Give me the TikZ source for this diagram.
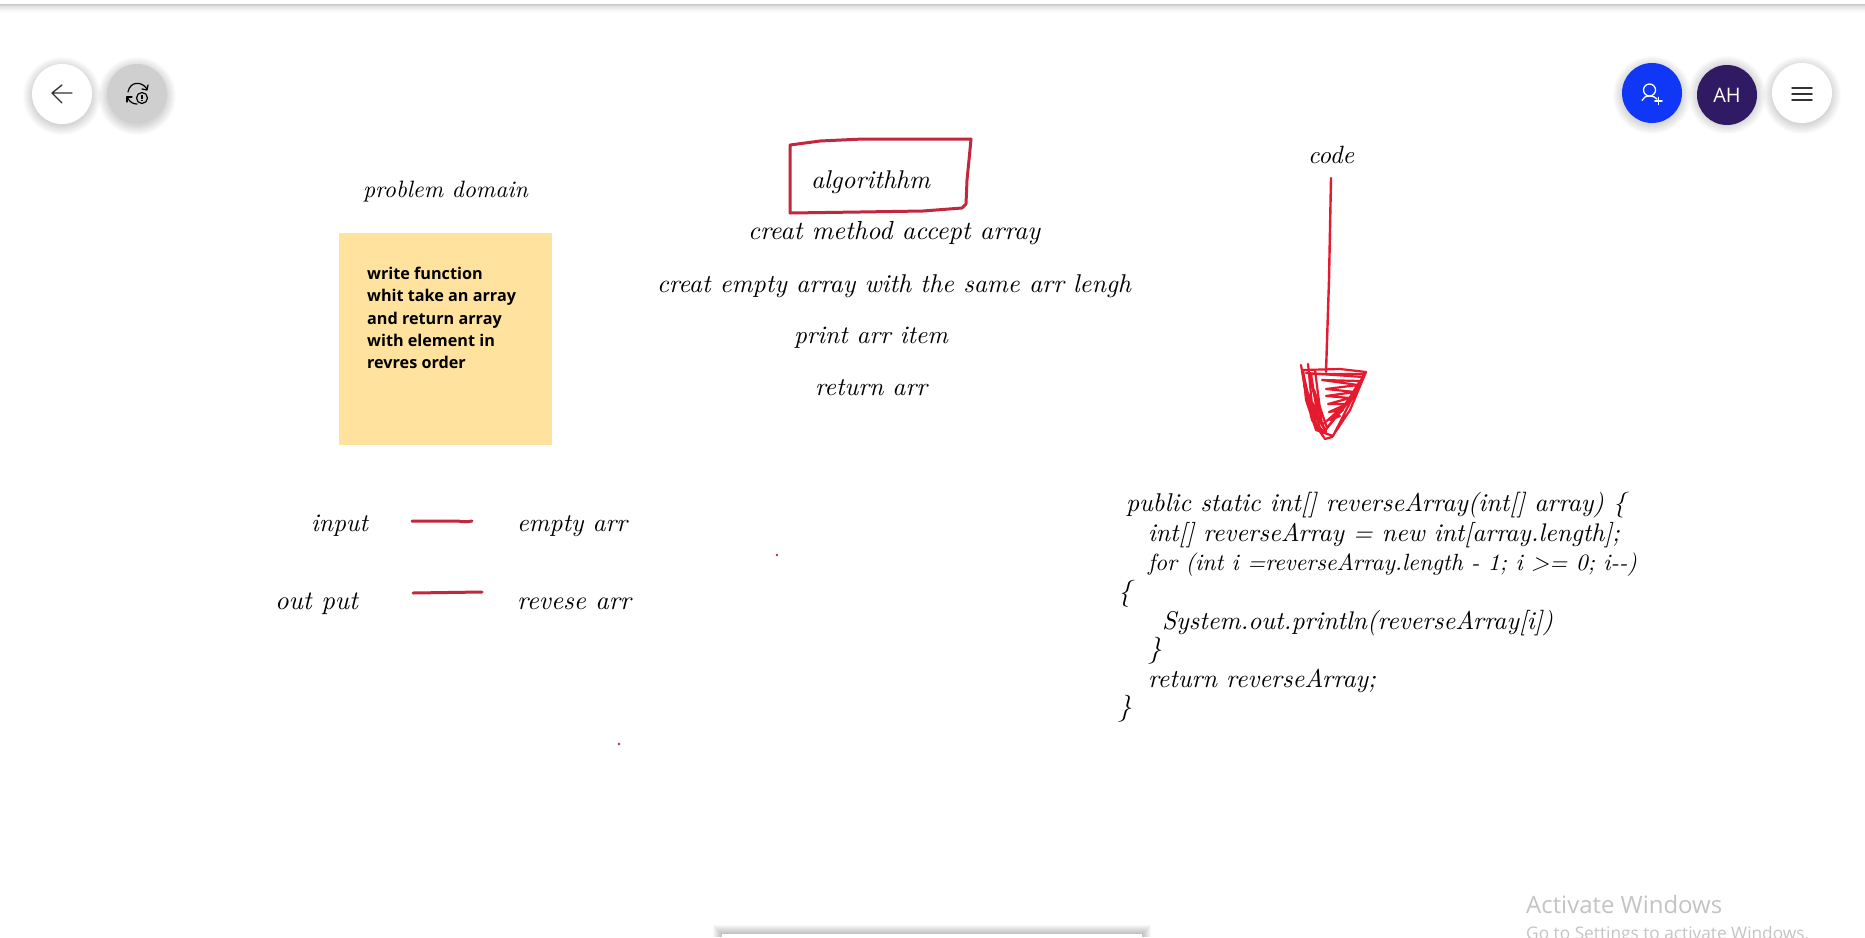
\documentclass[tikz,border=0pt]{standalone}
\usepackage{graphicx}
\usepackage{fontspec}
\newfontfamily\uifont{Open Sans}
\definecolor{inkred}{HTML}{C2273D}
\definecolor{brightred}{HTML}{E51A2E}
\definecolor{sticky}{HTML}{FFE29E}
\definecolor{btngray}{HTML}{CFCFCF}
\definecolor{btnblue}{HTML}{0F37F5}
\definecolor{btnpurple}{HTML}{2F1A63}
\definecolor{iconink}{HTML}{333333}
\definecolor{wintext}{HTML}{C4C4C4}
\tikzset{
  hand/.style={anchor=base west,inner sep=0pt,outer sep=0pt,text=black,font=\itshape\addfontfeature{FakeBold=0.7}},
  stroke/.style={draw=inkred,line width=3pt,line cap=round,line join=round},
  scribble/.style={draw=brightred,line width=2.2pt,line cap=round,line join=round},
  btn/.style={circle,minimum size=60pt,inner sep=0pt},
  icon/.style={draw=iconink,line width=1.4pt,line cap=round,line join=round},
  noteline/.style={anchor=base west,inner sep=0pt,font=\uifont\bfseries\fontsize{16.2}{18}\selectfont,text=black},
  dotmark/.style={fill=inkred,draw=none},
}
\newcommand{\hw}[5]{\node[hand] (#1) at (#2,#3) {\resizebox{#4pt}{!}{#5}};}
\newcommand{\softshadow}[3]{%
  \foreach \rr in {1,...,10} {\fill[black,opacity=0.014] (#1,#2+2) circle ({#3+\rr-1});}}
\begin{document}
\begin{tikzpicture}[x=1pt,y=-1pt]
\useasboundingbox (0,0) rectangle (1865,937);
\clip (0,0) rectangle (1865,937);
\fill[white] (0,0) rectangle (1865,937);
% top shadow
\foreach \yy/\op in {4/.22,5/.16,6/.12,7/.09,8/.07,9/.05,10/.035,11/.02,12/.01} {
  \fill[black,opacity=\op] (0,\yy) rectangle (1865,\yy+1);}
% bottom panel
\foreach \dd in {1,...,9} {
  \fill[black,opacity=.028] (722-\dd,934-\dd) rectangle (1142+\dd,937);}
\fill[white] (722,934.3) rectangle (1142,937);
% buttons
\softshadow{62}{94}{30}
\node[btn,fill=white] (back) at (62,94) {};
\softshadow{137}{94}{30}
\node[btn,fill=btngray] (sync) at (137,94) {};
\softshadow{1652}{93}{30}
\node[btn,fill=btnblue] (invite) at (1652,93) {};
\softshadow{1727}{93}{30}
\node[btn,fill=btnpurple,text=white,font=\uifont\fontsize{20}{22}\selectfont] (avatar) at (1727,95) {};
\node[text=white,inner sep=0pt,font=\uifont\fontsize{20}{22}\selectfont] (avatartext) at (1727,95) {AH};
\softshadow{1802}{93}{30}
\node[btn,fill=white] (menu) at (1802,93) {};
% back icon
\draw[icon] (72,93) -- (52,93) (62,85) -- (52,93) -- (62,103);
% sync icon
\draw[icon,line width=1.2pt,black] (128,92) .. controls (130,81) and (142,81) .. (147,89);
\draw[icon,line width=1.2pt,black] (142,89) -- (147,90) -- (148,85);
\draw[icon,line width=1.2pt,black] (127,97) .. controls (130,103) and (134,104) .. (137,104);
\draw[icon,line width=1.2pt,black] (127,102) -- (127,97) -- (132,97);
\draw[icon,line width=1.2pt,black] (142,98) circle (5.5);
\draw[black,line width=1.1pt] (142,95) -- (142,98.5) (142,100) -- (142,101);
% invite icon
\draw[icon,white,line width=1.3pt] (1649.5,90) circle (6);
\draw[icon,white,line width=1.3pt] (1642,100.5) .. controls (1643,97.5) and (1646,96) .. (1649.5,96) .. controls (1653,96) and (1655,97) .. (1657,99);
\draw[icon,white,line width=1.6pt] (1655,101) -- (1662,101) (1658.5,97.5) -- (1658.5,104.5);
% menu icon
\draw[icon,line width=1.5pt] (1792,88) -- (1812,88) (1792,94) -- (1812,94) (1792,100) -- (1812,100);
% sticky note
\fill[sticky] (339,233) rectangle (552,445);
\node[noteline] (n1) at (367,279) {write function};
\node[noteline] (n2) at (367,301) {whit take an array};
\node[noteline] (n3) at (367,324) {and return array};
\node[noteline] (n4) at (367,346) {with element in};
\node[noteline] (n5) at (367,368) {revres order};
% hand labels
\hw{pd}{363}{197}{165}{problem domain}
\hw{algo}{811}{188}{119}{algorithhm}
\hw{a1}{748}{239}{292}{creat method accept array}
\hw{a2}{657}{292}{474}{creat empty array with the same arr lengh}
\hw{a3}{794}{343}{154}{print arr item}
\hw{a4}{815}{395}{112}{return arr}
\hw{code}{1308}{163}{46}{code}
\hw{inp}{311}{531}{57}{input}
\hw{emp}{517}{531}{110}{empty arr}
\hw{outp}{275}{609}{83}{out put}
\hw{rev}{517}{609}{114}{revese arr}
% code
\hw{c1}{1126}{511}{500}{public static int[] reverseArray(int[] array) \{}
\hw{c2}{1148}{541}{472}{int[] reverseArray = new int[array.length];}
\hw{c3}{1148}{570}{489}{for (int i =reverseArray.length - 1; i >= 0; i-{}-)}
\node[hand,font=\itshape\addfontfeature{FakeBold=0.7}\fontsize{27}{30}\selectfont] (c4) at (1118,600) {\{};
\hw{c5}{1162}{629}{391}{System.out.println(reverseArray[i])}
\node[hand,font=\itshape\addfontfeature{FakeBold=0.7}\fontsize{27}{30}\selectfont] (c6) at (1148,657) {\}};
\hw{c7}{1148}{687}{228}{return reverseArray;}
\node[hand,font=\itshape\addfontfeature{FakeBold=0.7}\fontsize{27}{30}\selectfont] (c8) at (1118,715) {\}};
% red algorithm box
\draw[stroke] (790,145) -- (820,141) -- (863,139) -- (971,139) -- (969,160) -- (967,180) -- (966,204) -- (962,208) -- (923,211) -- (860,212) -- (790,213) -- cycle;
% dashes
\coordinate (d1a) at (412,521); \coordinate (d1b) at (472,521);
\coordinate (d2a) at (413,593); \coordinate (d2b) at (482,592);
\draw[stroke] (d1a) -- (458,521) .. controls (462,522) and (468,522) .. (d1b);
\draw[stroke] (d2a) -- (d2b);
% dots
\fill[dotmark] (777,555) circle (1.3);
\fill[dotmark] (619,744) circle (1.3);
% big arrow
\coordinate (arrowtop) at (1331,178);
\coordinate (arrowend) at (1326,372);
\draw[draw=brightred,line width=2.4pt,line cap=round] (arrowtop) -- (1329,280) -- (arrowend);
\draw[scribble] (1301,365) -- (1306,395) -- (1312,420) -- (1325,439) -- (1332,437) -- (1350,410) -- (1366,372) -- (1340,369) -- (1303,370) -- (1306,400) -- (1316,430) -- (1333,436) -- (1363,377) -- (1306,373);
\draw[scribble] (1308,364) -- (1312,405) -- (1322,434) -- (1352,398) -- (1364,374) -- (1311,374) -- (1318,418) -- (1326,432) -- (1304,385) -- (1316,425);
\draw[scribble] (1315,370) -- (1322,425) -- (1345,405) -- (1360,381) -- (1322,380) -- (1358,385) -- (1326,389) -- (1355,392) -- (1326,396) -- (1350,398) -- (1328,404) -- (1347,404) -- (1329,412) -- (1343,410) -- (1330,420) -- (1340,416);
\draw[scribble] (1303,372) -- (1314,422) -- (1324,432) -- (1356,390) (1310,380) -- (1320,415) -- (1314,390) -- (1327,428);
% windows watermark
\node[anchor=base west,inner sep=0pt] (w1) at (1526,913) {\resizebox{196pt}{!}{\uifont\color{wintext}Activate Windows}};
\node[anchor=base west,inner sep=0pt] (w2) at (1526,939) {\resizebox{283pt}{!}{\uifont\color{wintext}Go to Settings to activate Windows.}};
\end{tikzpicture}
\end{document}
